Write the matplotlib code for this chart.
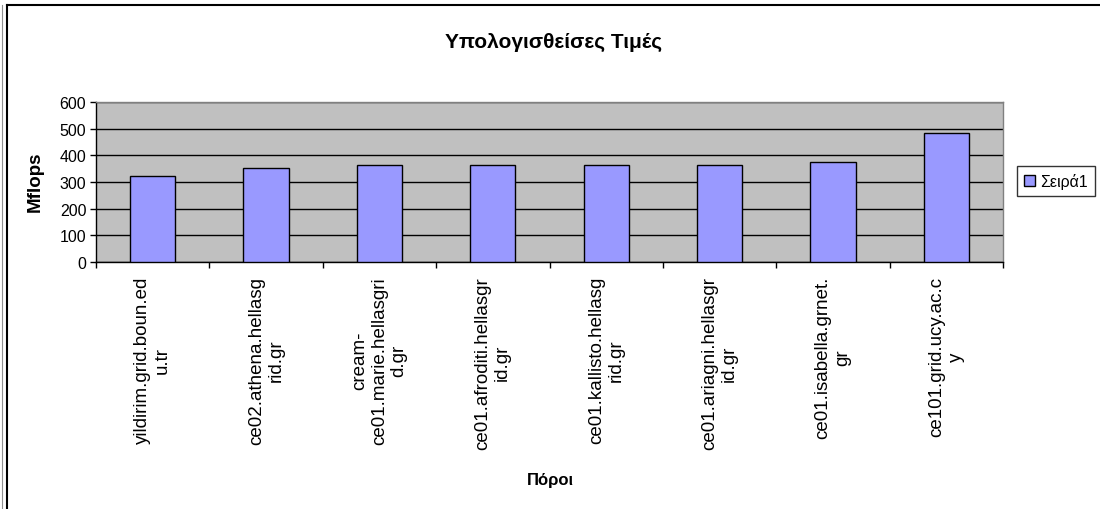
import matplotlib
matplotlib.use("Agg")
import matplotlib.pyplot as plt
from matplotlib.lines import Line2D
import numpy as np

plt.rcParams['font.family'] = ['Liberation Sans', 'DejaVu Sans']

# Resources (as wrapped on the category axis) and measured Mflops
tick_labels = [
    "yildirim.grid.boun.ed\nu.tr",
    "ce02.athena.hellasg\nrid.gr",
    "cream-\nce01.marie.hellasgri\nd.gr",
    "ce01.afroditi.hellasgr\nid.gr",
    "ce01.kallisto.hellasg\nrid.gr",
    "ce01.ariagni.hellasgr\nid.gr",
    "ce01.isabella.grnet.\ngr",
    "ce101.grid.ucy.ac.c\ny",
]
mflops = [323, 353, 364, 364, 364, 364, 375, 484]
series_name = "Σειρά1"
y_ticks = [0, 100, 200, 300, 400, 500, 600]

fig = plt.figure(figsize=(11, 5.1), dpi=100)
fig.patch.set_facecolor("white")

ax = fig.add_axes([96 / 1100, 1 - 263 / 510, 907 / 1100, 160 / 510])
ax.set_facecolor("#C0C0C0")

x = np.arange(len(mflops))
bars = ax.bar(x, mflops, width=0.4, color="#9999FF", edgecolor="black",
              linewidth=1.0, zorder=3, label=series_name)

ax.set_xlim(-0.5, len(mflops) - 0.5)
ax.set_ylim(0, 600)
ax.set_yticks(y_ticks)
ax.yaxis.grid(True, color="black", linewidth=1.0, zorder=1)
ax.set_axisbelow(True)

# category labels centred, tick marks on the category boundaries
ax.set_xticks(x)
ax.set_xticklabels(tick_labels, rotation=90, ha="center", va="top",
                   multialignment="center", fontsize=13.5)
ax.tick_params(axis="x", which="major", length=0, pad=10)
ax.set_xticks(np.arange(len(mflops) + 1) - 0.5, minor=True)
ax.tick_params(axis="x", which="minor", length=4, width=1, direction="out",
               color="black")
ax.tick_params(axis="y", length=4, width=1, direction="out", pad=3,
               labelsize=11.5)

for side in ("top", "right"):
    ax.spines[side].set_color("#808080")
    ax.spines[side].set_linewidth(1.0)
for side in ("left", "bottom"):
    ax.spines[side].set_color("black")
    ax.spines[side].set_linewidth(1.0)

ax.set_ylabel("Mflops", fontsize=13.5, fontweight="bold")
ax.yaxis.set_label_coords(35 / 1100, 1 - 182 / 510, transform=fig.transFigure)
ax.yaxis.label.set_va("center")

fig.text(550 / 1100, 1 - 481 / 510, "Πόροι", ha="center", va="center",
         fontsize=12, fontweight="bold")
fig.text(554 / 1100, 1 - 42 / 510, "Υπολογισθείσες Τιμές", ha="center",
         va="center", fontsize=15, fontweight="bold")

leg = fig.legend(handles=[bars], labels=[series_name],
                 loc="center left", bbox_to_anchor=(1017 / 1100, 1 - 182 / 510),
                 fontsize=11.5, frameon=True, fancybox=False, shadow=False,
                 handlelength=0.7, handleheight=0.7, handletextpad=0.3,
                 borderpad=0.45, borderaxespad=0)
leg.get_frame().set_edgecolor("black")
leg.get_frame().set_linewidth(1.0)

# outer chart frame
fig.add_artist(Line2D([6.5 / 1100, 6.5 / 1100], [0, 1 - 6 / 510],
                      transform=fig.transFigure, color="black", linewidth=1.5))
fig.add_artist(Line2D([6.5 / 1100, 1], [1 - 6 / 510, 1 - 6 / 510],
                      transform=fig.transFigure, color="black", linewidth=1.5))
fig.add_artist(Line2D([1.8 / 1100, 1.8 / 1100], [0, 1 - 6 / 510],
                      transform=fig.transFigure, color="#909090", linewidth=0.8))

fig.savefig("out.png", dpi=100, facecolor="white")
